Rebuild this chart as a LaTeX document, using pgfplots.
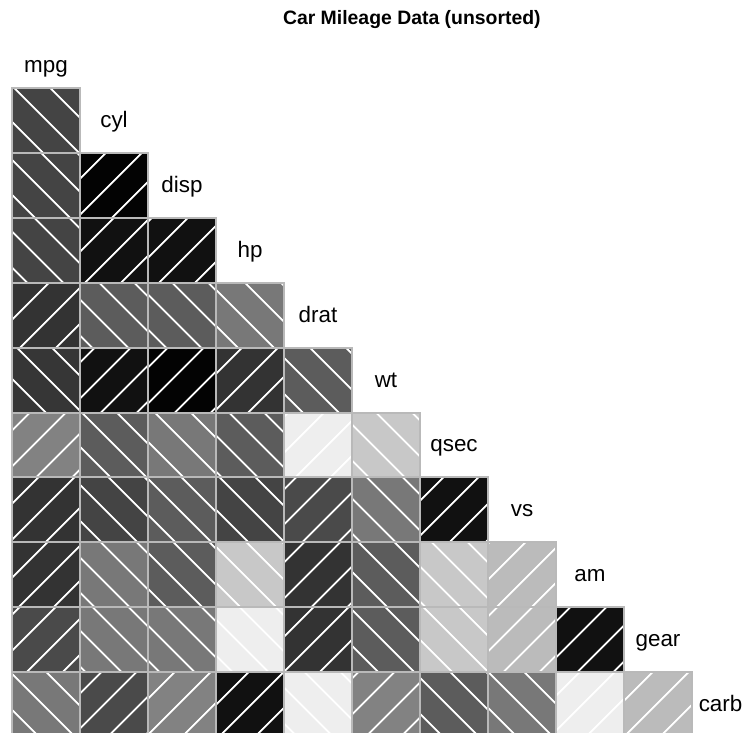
\documentclass[border=0pt]{standalone}
\usepackage{fontspec}
\setmainfont{Liberation Sans}
\usepackage{pgfplots}
\pgfplotsset{compat=1.18}
\usetikzlibrary{patterns.meta}
\definecolor{cellborder}{RGB}{185,185,185}
\tikzset{
  hpos/.style={preaction={pattern={Lines[angle=45,distance=13pt,line width=1pt]},pattern color=white}},
  hneg/.style={preaction={pattern={Lines[angle=-45,distance=13pt,line width=1pt]},pattern color=white}},
}
% #1 column, #2 row, #3 correlation, #4 grey level (0-255)
\newcommand\cell[4]{%
  \pgfmathtruncatemacro\xa{#1}\pgfmathtruncatemacro\xb{#1+1}%
  \pgfmathtruncatemacro\ya{-#2}\pgfmathtruncatemacro\yb{1-#2}%
  \ifdim #3pt>0pt \def\hs{hpos}\else\def\hs{hneg}\fi
  \edef\tmp{\noexpand\addplot[draw=cellborder, line width=1pt,
      preaction={fill={rgb,255:red,#4;green,#4;blue,#4}}, \hs]
      coordinates {(\xa,\ya) (\xb,\ya) (\xb,\yb) (\xa,\yb)} -- cycle;}%
  \tmp}
\begin{document}
\begin{tikzpicture}
\begin{axis}[name=ax, hide axis, scale only axis,
  width=374.5pt, height=366.5pt,
  xmin=-0.1765, xmax=10.838, ymin=-9.938, ymax=1.356, clip=true]
% row 1: cyl
\cell{0}{1}{-0.852}{68}
% row 2: disp
\cell{0}{2}{-0.848}{68} \cell{1}{2}{0.902}{3}
% row 3: hp
\cell{0}{3}{-0.776}{68} \cell{1}{3}{0.832}{17} \cell{2}{3}{0.791}{17}
% row 4: drat
\cell{0}{4}{0.681}{51} \cell{1}{4}{-0.700}{92} \cell{2}{4}{-0.710}{92} \cell{3}{4}{-0.449}{120}
% row 5: wt
\cell{0}{5}{-0.868}{54} \cell{1}{5}{0.782}{17} \cell{2}{5}{0.888}{3} \cell{3}{5}{0.659}{51} \cell{4}{5}{-0.712}{92}
% row 6: qsec
\cell{0}{6}{0.419}{130} \cell{1}{6}{-0.591}{92} \cell{2}{6}{-0.434}{120} \cell{3}{6}{-0.708}{92} \cell{4}{6}{0.091}{238} \cell{5}{6}{-0.175}{200}
% row 7: vs
\cell{0}{7}{0.664}{51} \cell{1}{7}{-0.811}{68} \cell{2}{7}{-0.710}{92} \cell{3}{7}{-0.723}{68} \cell{4}{7}{0.440}{74} \cell{5}{7}{-0.555}{120} \cell{6}{7}{0.745}{17}
% row 8: am
\cell{0}{8}{0.600}{51} \cell{1}{8}{-0.523}{120} \cell{2}{8}{-0.591}{92} \cell{3}{8}{-0.243}{200} \cell{4}{8}{0.713}{51} \cell{5}{8}{-0.692}{92} \cell{6}{8}{-0.230}{200} \cell{7}{8}{0.168}{187}
% row 9: gear
\cell{0}{9}{0.480}{74} \cell{1}{9}{-0.493}{120} \cell{2}{9}{-0.556}{120} \cell{3}{9}{-0.126}{238} \cell{4}{9}{0.700}{51} \cell{5}{9}{-0.583}{92} \cell{6}{9}{-0.213}{200} \cell{7}{9}{0.206}{187} \cell{8}{9}{0.794}{17}
% row 10: carb
\cell{0}{10}{-0.551}{120} \cell{1}{10}{0.527}{74} \cell{2}{10}{0.395}{130} \cell{3}{10}{0.750}{17} \cell{4}{10}{-0.091}{238} \cell{5}{10}{0.428}{130} \cell{6}{10}{-0.656}{92} \cell{7}{10}{-0.570}{120} \cell{8}{10}{0.058}{238} \cell{9}{10}{0.274}{187}
% labels
\node[anchor=base, font=\fontsize{11.2pt}{13pt}\selectfont] at (axis cs:0.5,0.246) {mpg};
\node[anchor=base, font=\fontsize{11.2pt}{13pt}\selectfont] at (axis cs:1.5,-0.608) {cyl};
\node[anchor=base, font=\fontsize{11.2pt}{13pt}\selectfont] at (axis cs:2.5,-1.608) {disp};
\node[anchor=base, font=\fontsize{11.2pt}{13pt}\selectfont] at (axis cs:3.5,-2.608) {hp};
\node[anchor=base, font=\fontsize{11.2pt}{13pt}\selectfont] at (axis cs:4.5,-3.608) {drat};
\node[anchor=base, font=\fontsize{11.2pt}{13pt}\selectfont] at (axis cs:5.5,-4.608) {wt};
\node[anchor=base, font=\fontsize{11.2pt}{13pt}\selectfont] at (axis cs:6.5,-5.608) {qsec};
\node[anchor=base, font=\fontsize{11.2pt}{13pt}\selectfont] at (axis cs:7.5,-6.608) {vs};
\node[anchor=base, font=\fontsize{11.2pt}{13pt}\selectfont] at (axis cs:8.5,-7.608) {am};
\node[anchor=base, font=\fontsize{11.2pt}{13pt}\selectfont] at (axis cs:9.5,-8.608) {gear};
\node[anchor=base, font=\fontsize{11.2pt}{13pt}\selectfont] at (axis cs:10.42,-9.608) {carb};
\node[anchor=base, font=\bfseries\fontsize{9.7pt}{11pt}\selectfont] at (axis cs:5.88,0.971) {Car Mileage Data (unsorted)};
\end{axis}
\pgfresetboundingbox
\useasboundingbox (ax.south west) rectangle (ax.north east);
\end{tikzpicture}
\end{document}
